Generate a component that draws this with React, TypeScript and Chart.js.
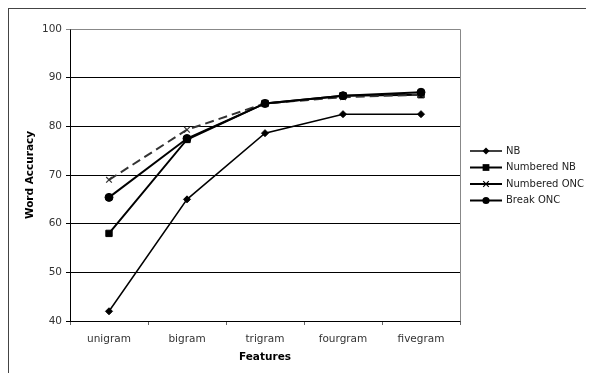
import React, { useEffect, useRef } from "react";
import { Chart, registerables } from "chart.js";

Chart.register(...registerables);

const categories = ["unigram", "bigram", "trigram", "fourgram", "fivegram"];
const nb = [42, 65, 78.6, 82.5, 82.5];
const numberedNb = [58, 77.3, 84.7, 86.3, 86.5];
const numberedOnc = [69, 79.3, 84.7, 86, 86.5];
const breakOnc = [65.4, 77.5, 84.7, 86.3, 87];
const seriesNames = ["NB", "Numbered NB", "Numbered ONC", "Break ONC"];
const yTicks = [40, 50, 60, 70, 80, 90, 100];

const FONT = "'DejaVu Sans', Verdana, sans-serif";

const styles = [
  { pointStyle: "rectRot", radius: 3.5, lineWidth: 1.5, dash: [] as number[] },
  { pointStyle: "rect", radius: 4.5, lineWidth: 2, dash: [] as number[] },
  { pointStyle: "crossRot", radius: 4, lineWidth: 2, dash: [9, 5] },
  { pointStyle: "circle", radius: 4, lineWidth: 2, dash: [] as number[] },
];

function drawPoint(ctx: CanvasRenderingContext2D, style: string, r: number, x: number, y: number) {
  ctx.beginPath();
  if (style === "rectRot") {
    ctx.moveTo(x, y - r);
    ctx.lineTo(x + r, y);
    ctx.lineTo(x, y + r);
    ctx.lineTo(x - r, y);
    ctx.closePath();
    ctx.fill();
  } else if (style === "rect") {
    ctx.rect(x - r * 0.75, y - r * 0.75, r * 1.5, r * 1.5);
    ctx.fill();
  } else if (style === "crossRot") {
    const d = r * 0.7;
    ctx.moveTo(x - d, y - d);
    ctx.lineTo(x + d, y + d);
    ctx.moveTo(x + d, y - d);
    ctx.lineTo(x - d, y + d);
    ctx.stroke();
  } else {
    ctx.arc(x, y, r * 0.9, 0, Math.PI * 2);
    ctx.fill();
  }
}

const legendPlugin = {
  id: "customLegend",
  afterDraw(chart: any) {
    const ctx = chart.ctx;
    const area = chart.chartArea;
    ctx.save();
    ctx.strokeStyle = "#888";
    ctx.lineWidth = 1;
    ctx.beginPath();
    ctx.moveTo(Math.round(area.left) + 0.5, Math.round(area.top) + 0.5);
    ctx.lineTo(Math.round(area.right) + 0.5, Math.round(area.top) + 0.5);
    ctx.lineTo(Math.round(area.right) + 0.5, Math.round(area.bottom) + 0.5);
    ctx.stroke();
    ctx.restore();

    const x0 = 461;
    const y0 = 142;
    const step = 16.5;
    chart.data.datasets.forEach((ds: any, i: number) => {
      const y = y0 + i * step;
      const st = styles[i];
      ctx.save();
      ctx.strokeStyle = "#000";
      ctx.fillStyle = "#000";
      ctx.lineWidth = st.lineWidth;
      ctx.beginPath();
      ctx.moveTo(x0, y);
      ctx.lineTo(x0 + 32, y);
      ctx.stroke();
      ctx.lineWidth = 1.2;
      drawPoint(ctx, st.pointStyle, st.radius, x0 + 16, y);
      ctx.fillStyle = "#222";
      ctx.font = "10px " + FONT;
      ctx.textBaseline = "middle";
      ctx.textAlign = "left";
      ctx.fillText(ds.label, x0 + 36, y);
      ctx.restore();
    });
  },
};

export default function App() {
  const ref = useRef<HTMLCanvasElement>(null);
  useEffect(() => {
    document.documentElement.style.overflow = "hidden";
    if (!ref.current) return;
    const seriesData = [nb, numberedNb, numberedOnc, breakOnc];
    const chart = new Chart(ref.current, {
      type: "line",
      data: {
        labels: categories,
        datasets: seriesData.map((d, i) => ({
          label: seriesNames[i],
          data: d,
          borderColor: i === 2 ? "#333" : "#000",
          backgroundColor: "#000",
          pointBackgroundColor: "#000",
          pointBorderColor: i === 2 ? "#333" : "#000",
          pointBorderWidth: i === 2 ? 1.2 : 1,
          borderWidth: styles[i].lineWidth,
          borderDash: styles[i].dash,
          pointStyle: styles[i].pointStyle as any,
          pointRadius: styles[i].radius,
          tension: 0,
          fill: false,
          order: 4 - i,
        })),
      },
      options: {
        animation: false,
        responsive: false,
        maintainAspectRatio: false,
        layout: { padding: { top: 20, right: 134, left: 15, bottom: 0 } },
        plugins: { legend: { display: false }, tooltip: { enabled: false } },
        scales: {
          x: {
            offset: true,
            grid: {
              offset: true,
              drawOnChartArea: false,
              drawTicks: true,
              tickLength: 4,
              color: "#666",
            },
            border: { color: "#000", width: 1 },
            ticks: { color: "#333", font: { family: FONT, size: 10.5 }, padding: 8 },
            title: {
              display: true,
              text: "Features",
              color: "#000",
              font: { family: FONT, size: 10.5, weight: "bold" },
              padding: { top: 5, bottom: 9 },
            },
            afterFit: (s: any) => {
              s.height = 52;
            },
          },
          y: {
            min: 40,
            max: 100,
            afterBuildTicks: (s: any) => {
              s.ticks = yTicks.map((v) => ({ value: v }));
            },
            grid: {
              color: (c: any) => (c.tick && c.tick.value === 100 ? "#888" : "#000"),
              lineWidth: 1,
              tickLength: 4,
              drawTicks: true,
            },
            border: { color: "#000", width: 1 },
            ticks: { color: "#333", font: { family: FONT, size: 10.5 }, padding: 4 },
            title: {
              display: true,
              text: "Word Accuracy",
              color: "#000",
              font: { family: FONT, size: 10.5, weight: "bold" },
              padding: { top: 0, bottom: 4 },
            },
            afterFit: (s: any) => {
              s.width = 46;
            },
          },
        },
      },
      plugins: [legendPlugin],
    });
    return () => chart.destroy();
  }, []);
  return (
    <div
      style={{
        width: 620,
        height: 364,
        borderTop: "1px solid #444",
        borderLeft: "1px solid #444",
        overflow: "hidden",
      }}
    >
      <canvas ref={ref} width={585} height={364} style={{ display: "block" }} />
    </div>
  );
}
